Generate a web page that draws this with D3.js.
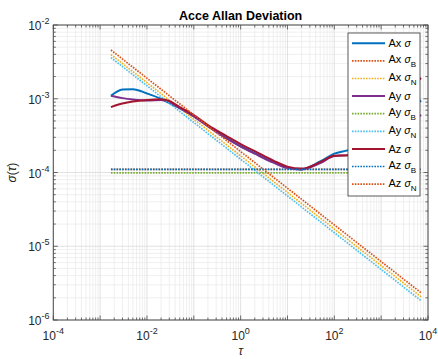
<!DOCTYPE html>
<html><head><meta charset="utf-8">
<script src="https://cdn.jsdelivr.net/npm/d3@7"></script>
<style>body{margin:0;background:#fff;} svg{display:block;font-family:"Liberation Sans",Arial,sans-serif;}</style>
</head><body><svg id="c" width="438" height="359"></svg>
<script>
// ---- data ----
const tau = [0.0017,0.003,0.005,0.01,0.02,0.03,0.05,0.1,0.2,0.5,1,2,5,10,20,50,100,200,500,1000,2000,4000,7160];
const axSigma = [1.10e-3,1.33e-3,1.35e-3,1.18e-3,9.97e-4,8.74e-4,7.48e-4,5.82e-4,4.27e-4,2.93e-4,2.28e-4,1.83e-4,1.38e-4,1.16e-4,1.10e-4,1.41e-4,1.80e-4,2.01e-4,2.75e-4,4.00e-4,6.00e-4,7.96e-4,9.4e-4];
const aySigma = [1.10e-3,1.02e-3,9.75e-4,9.46e-4,9.6e-4,9.0e-4,7.48e-4,5.74e-4,4.21e-4,2.89e-4,2.25e-4,1.80e-4,1.36e-4,1.15e-4,1.10e-4,1.34e-4,1.67e-4,1.72e-4,2.14e-4,2.75e-4,3.76e-4,4.98e-4,6.0e-4];
const azSigma = [7.71e-4,8.61e-4,9.16e-4,9.6e-4,9.81e-4,9.31e-4,7.71e-4,6.01e-4,4.40e-4,3.12e-4,2.43e-4,1.95e-4,1.45e-4,1.20e-4,1.13e-4,1.38e-4,1.69e-4,1.72e-4,2.75e-4,5.14e-4,9.6e-4,1.49e-3,1.91e-3];
const tauLine = [0.0017, 7160];
const axSigmaB = [1.10e-4, 1.10e-4];
const axSigmaN = [3.98e-3, 2.06e-6];
const aySigmaB = [9.9e-5, 9.9e-5];
const aySigmaN = [3.62e-3, 1.82e-6];
const azSigmaB = [1.10e-4, 1.10e-4];
const azSigmaN = [4.58e-3, 2.33e-6];
const xTickExps = [-4,-2,0,2,4];
const yTickExps = [-6,-5,-4,-3,-2];
const seriesNames = ["Ax","Ax","Ax","Ay","Ay","Ay","Az","Az","Az"];
const seriesSubs = ["","B","N","","B","N","","B","N"];

const colors = ["#0072BD","#D95319","#EDB120","#7E2F8E","#77AC30","#4DBEEE","#A2142F","#0072BD","#D95319"];
const series = [
  {x:tau, y:axSigma, dotted:false},
  {x:tauLine, y:axSigmaB, dotted:true},
  {x:tauLine, y:axSigmaN, dotted:true},
  {x:tau, y:aySigma, dotted:false},
  {x:tauLine, y:aySigmaB, dotted:true},
  {x:tauLine, y:aySigmaN, dotted:true},
  {x:tau, y:azSigma, dotted:false},
  {x:tauLine, y:azSigmaB, dotted:true},
  {x:tauLine, y:azSigmaN, dotted:true}
].map((s,i)=>Object.assign(s,{name:seriesNames[i],sub:seriesSubs[i],color:colors[i]}));

const L=53.3,R=428,T=25,B=320;
const svg = d3.select("#c");
const x = d3.scaleLog().domain([1e-4,1e4]).range([L,R]);
const y = d3.scaleLog().domain([1e-6,1e-2]).range([B,T]);
const isMajor = v => Math.abs(Math.log10(v)-Math.round(Math.log10(v)))<1e-9;
const xt = x.ticks(), yt = y.ticks();

// grid
const g = svg.append("g");
g.selectAll(".gxm").data(xt.filter(v=>!isMajor(v))).join("line")
  .attr("x1",d=>x(d)).attr("x2",d=>x(d)).attr("y1",T).attr("y2",B)
  .attr("stroke","#ebebeb").attr("stroke-width",0.8);
g.selectAll(".gym").data(yt.filter(v=>!isMajor(v))).join("line")
  .attr("y1",d=>y(d)).attr("y2",d=>y(d)).attr("x1",L).attr("x2",R)
  .attr("stroke","#ebebeb").attr("stroke-width",0.8);
g.selectAll(".gxM").data(xt.filter(isMajor)).join("line")
  .attr("x1",d=>x(d)).attr("x2",d=>x(d)).attr("y1",T).attr("y2",B)
  .attr("stroke","#dadada").attr("stroke-width",0.8);
g.selectAll(".gyM").data(yt.filter(isMajor)).join("line")
  .attr("y1",d=>y(d)).attr("y2",d=>y(d)).attr("x1",L).attr("x2",R)
  .attr("stroke","#dadada").attr("stroke-width",0.8);

// clip
svg.append("clipPath").attr("id","pc").append("rect").attr("x",L).attr("y",T).attr("width",R-L).attr("height",B-T);
const line = d3.line().x(d=>x(d[0])).y(d=>y(d[1])).curve(d3.curveMonotoneX);
const dg = svg.append("g").attr("clip-path","url(#pc)");
series.forEach(s=>{
  dg.append("path").datum(s.x.map((v,i)=>[v,s.y[i]]))
    .attr("d",line).attr("fill","none").attr("stroke",s.color)
    .attr("stroke-width",s.dotted?1.7:2)
    .attr("stroke-dasharray",s.dotted?"1.6,1.2":null);
});

// axes box and ticks
const ax = svg.append("g").attr("stroke","#4a4a4a");
ax.append("rect").attr("x",L).attr("y",T).attr("width",R-L).attr("height",B-T).attr("fill","none").attr("stroke-width",1);
xt.forEach(v=>{
  const len = isMajor(v)?4.5:2.5, px=x(v);
  ax.append("line").attr("x1",px).attr("x2",px).attr("y1",B).attr("y2",B-len).attr("stroke-width",0.8);
  ax.append("line").attr("x1",px).attr("x2",px).attr("y1",T).attr("y2",T+len).attr("stroke-width",0.8);
});
yt.forEach(v=>{
  const len = isMajor(v)?4.5:2.5, py=y(v);
  ax.append("line").attr("y1",py).attr("y2",py).attr("x1",L).attr("x2",L+len).attr("stroke-width",0.8);
  ax.append("line").attr("y1",py).attr("y2",py).attr("x1",R).attr("x2",R-len).attr("stroke-width",0.8);
});

// tick labels
xTickExps.forEach(e=>{
  const t = svg.append("text").attr("x",x(Math.pow(10,e))).attr("y",339.5).attr("text-anchor","middle")
    .attr("fill","#262626").attr("font-size",12);
  t.append("tspan").text("10");
  t.append("tspan").attr("dy",-6).attr("font-size",9).text(String(e));
});
yTickExps.forEach(e=>{
  const t = svg.append("text").attr("x",49.5).attr("y",y(Math.pow(10,e))+5).attr("text-anchor","end")
    .attr("fill","#262626").attr("font-size",12);
  t.append("tspan").text("10");
  t.append("tspan").attr("dy",-6).attr("font-size",9).text(String(e));
});

// title and axis labels
svg.append("text").attr("x",(L+R)/2).attr("y",20).attr("text-anchor","middle")
  .attr("font-weight","bold").attr("font-size",12.5).attr("fill","#000").text("Acce Allan Deviation");
svg.append("text").attr("x",(L+R)/2).attr("y",355).attr("text-anchor","middle")
  .attr("font-style","italic").attr("font-size",12).attr("fill","#262626").text("τ");
svg.append("text").attr("transform",`translate(16,${(T+B)/2}) rotate(-90)`).attr("text-anchor","middle")
  .attr("font-size",12).attr("fill","#262626")
  .call(t=>{t.append("tspan").attr("font-style","italic").text("σ");t.append("tspan").text("(");
            t.append("tspan").attr("font-style","italic").text("τ");t.append("tspan").text(")");});

// legend
const lg = svg.append("g");
lg.append("rect").attr("x",348).attr("y",33).attr("width",72).attr("height",163)
  .attr("fill","#fff").attr("stroke","#333").attr("stroke-width",0.8);
series.forEach((s,i)=>{
  const ry = 43.3 + i*17.6;
  lg.append("line").attr("x1",352).attr("x2",385).attr("y1",ry).attr("y2",ry)
    .attr("stroke",s.color).attr("stroke-width",s.dotted?1.7:2)
    .attr("stroke-dasharray",s.dotted?"1.6,1.2":null);
  const t = lg.append("text").attr("x",388.5).attr("y",ry+4 - (s.sub?1.5:0)).attr("font-size",11).attr("fill","#000");
  t.append("tspan").text(s.name+" ");
  t.append("tspan").attr("font-style","italic").attr("font-size",10.5).text("σ");
  if(s.sub) t.append("tspan").attr("dy",4).attr("font-size",8).text(s.sub);
});
</script></body></html>
